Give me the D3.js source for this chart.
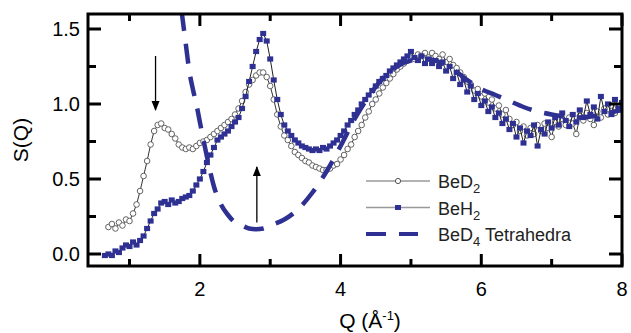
<!DOCTYPE html>
<html>
<head>
<meta charset="utf-8">
<script src="https://cdn.jsdelivr.net/npm/d3@7"></script>
<style>
  html, body { margin: 0; padding: 0; background: #fff; }
  svg { display: block; font-family: "Liberation Sans", Arial, sans-serif; }
</style>
</head>
<body>
<div id="chart"></div>
<script>
const qStep = 0.05;
const bed2Start = 0.70;
const bed2 = [
  0.18, 0.20, 0.17, 0.21, 0.19, 0.23, 0.22, 0.27, 0.33, 0.42,
  0.52, 0.62, 0.73, 0.82, 0.86, 0.87, 0.84, 0.83, 0.80, 0.77,
  0.73, 0.71, 0.70, 0.71, 0.70, 0.72, 0.74, 0.75, 0.76, 0.78,
  0.80, 0.82, 0.84, 0.86, 0.88, 0.90, 0.93, 0.97, 1.02, 1.08,
  1.13, 1.16, 1.19, 1.21, 1.21, 1.18, 1.12, 1.03, 0.93, 0.85,
  0.79, 0.76, 0.72, 0.68, 0.66, 0.64, 0.62, 0.61, 0.59, 0.58,
  0.57, 0.56, 0.56, 0.57, 0.59, 0.60, 0.63, 0.66, 0.70, 0.73,
  0.78, 0.82, 0.86, 0.91, 0.95, 1.00, 1.03, 1.07, 1.11, 1.14,
  1.17, 1.20, 1.23, 1.25, 1.27, 1.29, 1.31, 1.30, 1.33, 1.32,
  1.34, 1.31, 1.34, 1.32, 1.30, 1.33, 1.28, 1.30, 1.26, 1.24,
  1.21, 1.18, 1.15, 1.13, 1.09, 1.10, 1.05, 1.07, 1.01, 1.03,
  0.97, 0.99, 0.93, 0.96, 0.90, 0.86, 0.88, 0.82, 0.85, 0.79,
  0.84, 0.80, 0.86, 0.82, 0.87, 0.84, 0.78, 0.88, 0.85, 0.90,
  0.86, 0.91, 0.87, 0.80, 0.92, 0.89, 0.94, 0.90, 0.86, 0.95,
  0.91, 0.97, 0.93, 0.99, 0.94, 0.98, 0.96
];
const beh2Start = 0.65;
const beh2 = [
  -0.01, 0.00, -0.01, 0.02, 0.01, 0.04, 0.06, 0.05, 0.08, 0.06,
  0.09, 0.12, 0.17, 0.22, 0.27, 0.30, 0.34, 0.35, 0.33, 0.36,
  0.34, 0.35, 0.37, 0.38, 0.39, 0.42, 0.46, 0.50, 0.55, 0.61,
  0.66, 0.71, 0.76, 0.78, 0.80, 0.82, 0.85, 0.88, 0.91, 0.97,
  1.05, 1.15, 1.25, 1.35, 1.43, 1.47, 1.42, 1.30, 1.16, 1.03,
  0.93, 0.86, 0.82, 0.79, 0.76, 0.74, 0.72, 0.71, 0.70, 0.69,
  0.70, 0.69, 0.71, 0.70, 0.72, 0.74, 0.76, 0.79, 0.82, 0.86,
  0.89, 0.93, 0.96, 1.00, 1.03, 1.06, 1.09, 1.12, 1.15, 1.17,
  1.19, 1.22, 1.24, 1.26, 1.28, 1.30, 1.32, 1.35, 1.31, 1.29,
  1.32, 1.27, 1.30, 1.27, 1.29, 1.25, 1.28, 1.22, 1.25, 1.17,
  1.21, 1.13, 1.16, 1.08, 1.12, 1.03, 1.07, 0.99, 1.02, 0.95,
  0.98, 0.91, 0.94, 0.87, 0.90, 0.83, 0.87, 0.78, 0.84, 0.74,
  0.82, 0.79, 0.86, 0.72, 0.83, 0.80, 0.88, 0.84, 0.91, 0.86,
  0.94, 0.89, 0.85, 0.93, 0.88, 0.96, 0.91, 1.02, 0.93, 0.98,
  0.90, 1.05, 0.95, 1.00, 0.93, 1.03, 0.97, 1.01
];
// BeD4 tetrahedra model curve
const tetraQ = [1.74, 1.80, 1.85, 1.90, 1.95, 2.00, 2.10, 2.20, 2.30, 2.40,
  2.50, 2.60, 2.70, 2.80, 2.90, 3.00, 3.20, 3.40, 3.60, 3.80,
  4.00, 4.20, 4.40, 4.60, 4.80, 5.00, 5.20, 5.40, 5.60, 5.80,
  6.00, 6.20, 6.40, 6.60, 6.80, 7.00, 7.20, 7.40, 7.60, 7.80, 8.00];
const tetraS = [1.62, 1.40, 1.22, 1.10, 1.00, 0.88, 0.65, 0.45, 0.33, 0.26,
  0.21, 0.19, 0.17, 0.165, 0.17, 0.19, 0.23, 0.30, 0.41, 0.55,
  0.72, 0.90, 1.05, 1.17, 1.25, 1.29, 1.30, 1.28, 1.23, 1.16,
  1.10, 1.06, 1.02, 0.98, 0.95, 0.93, 0.915, 0.91, 0.92, 0.94, 0.96];

const xMajor = [2, 4, 6, 8];
const xMinor = [1, 3, 5, 7];
const yMajor = [0, 0.5, 1.0, 1.5];
const yMinor = [0.25, 0.75, 1.25];
const legendLabels = ['BeD', 'BeH', 'BeD'];
const legendSubs = ['2', '2', '4'];
const legendTails = ['', '', ' Tetrahedra'];

const width = 631, height = 333;
const margin = { top: 14, right: 9, bottom: 67, left: 88 };
const blue = '#2e3192';

const toPoints = (start, vals) => vals.map((s, i) => ({ q: start + i * qStep, s: s }));
const bed2Pts = toPoints(bed2Start, bed2);
const beh2Pts = toPoints(beh2Start, beh2);
const tetraPts = tetraQ.map((q, i) => ({ q: q, s: tetraS[i] }));

const svg = d3.select('#chart').append('svg')
  .attr('width', width)
  .attr('height', height);

const x = d3.scaleLinear().domain([0.41, 8]).range([margin.left, width - margin.right]);
const y = d3.scaleLinear().domain([-0.08, 1.6]).range([height - margin.bottom, margin.top]);

svg.append('defs').append('clipPath').attr('id', 'plot-clip')
  .append('rect')
  .attr('x', margin.left).attr('y', margin.top)
  .attr('width', width - margin.left - margin.right)
  .attr('height', height - margin.top - margin.bottom);

const plot = svg.append('g').attr('clip-path', 'url(#plot-clip)');

const line = d3.line().x(d => x(d.q)).y(d => y(d.s));

// BeD2 - open circles
plot.append('path')
  .datum(bed2Pts)
  .attr('d', line)
  .attr('fill', 'none')
  .attr('stroke', '#333')
  .attr('stroke-width', 1);
plot.selectAll('circle.bed2')
  .data(bed2Pts)
  .enter().append('circle')
  .attr('class', 'bed2')
  .attr('cx', d => x(d.q))
  .attr('cy', d => y(d.s))
  .attr('r', 2.8)
  .attr('fill', '#fff')
  .attr('stroke', '#555')
  .attr('stroke-width', 0.9);

// BeH2 - filled squares
plot.append('path')
  .datum(beh2Pts)
  .attr('d', line)
  .attr('fill', 'none')
  .attr('stroke', '#222')
  .attr('stroke-width', 1);
plot.selectAll('rect.beh2')
  .data(beh2Pts)
  .enter().append('rect')
  .attr('class', 'beh2')
  .attr('x', d => x(d.q) - 3)
  .attr('y', d => y(d.s) - 2.6)
  .attr('width', 6)
  .attr('height', 5.2)
  .attr('fill', blue);

// tetrahedra model
plot.append('path')
  .datum(tetraPts)
  .attr('d', d3.line().curve(d3.curveMonotoneX).x(d => x(d.q)).y(d => y(d.s)))
  .attr('fill', 'none')
  .attr('stroke', blue)
  .attr('stroke-width', 4.5)
  .attr('stroke-dasharray', '20,13');

// frame and ticks
const frame = svg.append('g').attr('stroke', '#000').attr('stroke-width', 3);
const x0 = margin.left, x1 = width - margin.right;
const y0 = margin.top, y1 = height - margin.bottom;

frame.append('rect')
  .attr('x', x0).attr('y', y0)
  .attr('width', x1 - x0).attr('height', y1 - y0)
  .attr('fill', 'none');

const tick = (x1_, y1_, x2_, y2_) => frame.append('line')
  .attr('x1', x1_).attr('y1', y1_).attr('x2', x2_).attr('y2', y2_);

xMajor.forEach(v => { tick(x(v), y1, x(v), y1 - 12); tick(x(v), y0, x(v), y0 + 12); });
xMinor.forEach(v => { tick(x(v), y1, x(v), y1 - 7); tick(x(v), y0, x(v), y0 + 7); });
yMajor.forEach(v => { tick(x0, y(v), x0 + 13, y(v)); tick(x1, y(v), x1 - 13, y(v)); });
yMinor.forEach(v => { tick(x0, y(v), x0 + 8, y(v)); tick(x1, y(v), x1 - 8, y(v)); });

// tick labels
svg.selectAll('text.xlab')
  .data(xMajor)
  .enter().append('text')
  .attr('class', 'xlab')
  .attr('x', d => x(d))
  .attr('y', 296)
  .attr('text-anchor', 'middle')
  .style('font-size', '20px')
  .text(d => d);

svg.selectAll('text.ylab')
  .data(yMajor)
  .enter().append('text')
  .attr('class', 'ylab')
  .attr('x', 80)
  .attr('y', d => y(d) + 7)
  .attr('text-anchor', 'end')
  .style('font-size', '20px')
  .text(d => d3.format('.1f')(d));

// axis titles
const xt = svg.append('text')
  .attr('x', 370)
  .attr('y', 328)
  .attr('text-anchor', 'middle')
  .style('font-size', '21px');
xt.append('tspan').text('Q (Å');
xt.append('tspan').attr('dy', -8).style('font-size', '13px').text('-1');
xt.append('tspan').attr('dy', 8).text(')');

svg.append('text')
  .attr('transform', 'translate(28,140) rotate(-90)')
  .attr('text-anchor', 'middle')
  .style('font-size', '21px')
  .text('S(Q)');

// arrows
const defs = svg.select('defs');
defs.append('marker')
  .attr('id', 'arrowhead')
  .attr('viewBox', '0 0 10 10')
  .attr('refX', 9).attr('refY', 5)
  .attr('markerWidth', 10).attr('markerHeight', 10)
  .attr('markerUnits', 'userSpaceOnUse')
  .attr('orient', 'auto')
  .append('path')
  .attr('d', 'M0,1 L10,5 L0,9 Z')
  .attr('fill', '#000');

const arrows = [
  { q: 1.37, from: 1.32, to: 0.96 },
  { q: 2.81, from: 0.21, to: 0.58 }
];
svg.selectAll('line.arrow')
  .data(arrows)
  .enter().append('line')
  .attr('class', 'arrow')
  .attr('x1', d => x(d.q)).attr('x2', d => x(d.q))
  .attr('y1', d => y(d.from)).attr('y2', d => y(d.to))
  .attr('stroke', '#000')
  .attr('stroke-width', 1.3)
  .attr('marker-end', 'url(#arrowhead)');

// legend
const legend = svg.selectAll('g.legend')
  .data(legendLabels)
  .enter().append('g')
  .attr('class', 'legend')
  .attr('transform', (d, i) => 'translate(366,' + (181 + i * 26.5) + ')');

legend.filter((d, i) => i < 2).append('line')
  .attr('x1', 0).attr('x2', 64)
  .attr('stroke', '#999')
  .attr('stroke-width', 1.3);
legend.filter((d, i) => i === 0).append('circle')
  .attr('cx', 32).attr('r', 2.6)
  .attr('fill', '#fff').attr('stroke', '#555');
legend.filter((d, i) => i === 1).append('rect')
  .attr('x', 29).attr('y', -2.5).attr('width', 6).attr('height', 5)
  .attr('fill', blue);
legend.filter((d, i) => i === 2).append('line')
  .attr('x1', 0).attr('x2', 52)
  .attr('stroke', blue)
  .attr('stroke-width', 4)
  .attr('stroke-dasharray', '20,13');

const lt = legend.append('text')
  .attr('x', 72)
  .attr('y', 7)
  .style('font-size', '18px')
  .style('fill', '#222');
lt.append('tspan').text(d => d);
lt.append('tspan').attr('dy', 5).style('font-size', '13px').text((d, i) => legendSubs[i]);
lt.append('tspan').attr('dy', -5).text((d, i) => legendTails[i]);
</script>
</body>
</html>
